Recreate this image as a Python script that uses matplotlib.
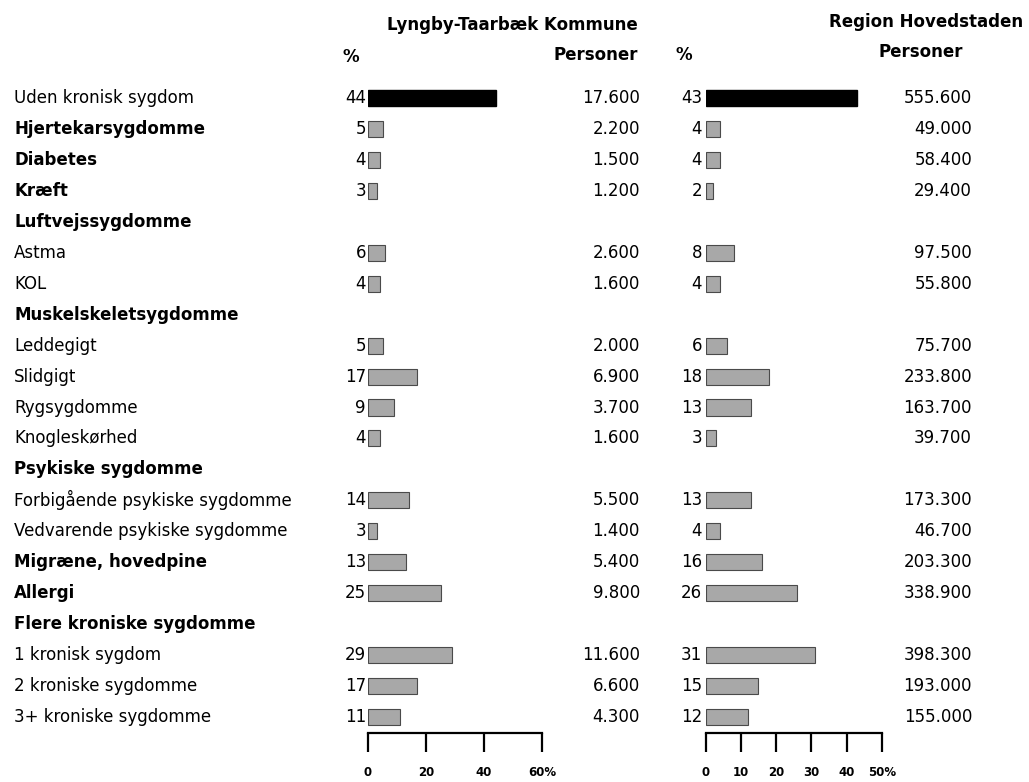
"""
kroniske sygdomme: Lyngby-Taarbaek Kommune vs Region Hovedstaden
"""

import matplotlib.pyplot as plt
from matplotlib.transforms import blended_transform_factory

W, H = 1029, 782

labels = ["Uden kronisk sygdom", "Hjertekarsygdomme", "Diabetes", "Kræft",
          "Luftvejssygdomme", "Astma", "KOL", "Muskelskeletsygdomme",
          "Leddegigt", "Slidgigt", "Rygsygdomme", "Knogleskørhed",
          "Psykiske sygdomme", "Forbigående psykiske sygdomme",
          "Vedvarende psykiske sygdomme", "Migræne, hovedpine", "Allergi",
          "Flere kroniske sygdomme", "1 kronisk sygdom",
          "2 kroniske sygdomme", "3+ kroniske sygdomme"]
bold = [False, True, True, True, True, False, False, True, False, False,
        False, False, True, False, False, True, True, True, False, False,
        False]

# None = group heading without values
kommune_pct = [44, 5, 4, 3, None, 6, 4, None, 5, 17, 9, 4, None, 14, 3,
               13, 25, None, 29, 17, 11]
kommune_pers = ["17.600", "2.200", "1.500", "1.200", None, "2.600", "1.600",
                None, "2.000", "6.900", "3.700", "1.600", None, "5.500",
                "1.400", "5.400", "9.800", None, "11.600", "6.600", "4.300"]
region_pct = [43, 4, 4, 2, None, 8, 4, None, 6, 18, 13, 3, None, 13, 4,
              16, 26, None, 31, 15, 12]
region_pers = ["555.600", "49.000", "58.400", "29.400", None, "97.500",
               "55.800", None, "75.700", "233.800", "163.700", "39.700",
               None, "173.300", "46.700", "203.300", "338.900", None,
               "398.300", "193.000", "155.000"]

kommune_ticks = [0, 20, 40, 60]
kommune_ticklabels = ["0", "20", "40", "60%"]
region_ticks = [0, 10, 20, 30, 40, 50]
region_ticklabels = ["0", "10", "20", "30", "40", "50%"]

ROW0, ROWSTEP = 98, 30.95
AX_TOP, AX_BOT = 80, 733


def fx(px):
    return px / W


def fy(py):
    return 1 - py / H


def panel(fig, x0, x1, xmax, ticks, ticklabels, pct):
    ax = fig.add_axes([fx(x0), fy(AX_BOT), fx(x1 - x0), fy(AX_TOP) - fy(AX_BOT)])
    ax.set_xlim(0, xmax)
    ax.set_ylim((AX_BOT - ROW0) / ROWSTEP, (AX_TOP - ROW0) / ROWSTEP)
    for i, v in enumerate(pct):
        if v is None:
            continue
        if i == 0:
            ax.barh(i, v, height=0.52, color="black", edgecolor="black")
        else:
            ax.barh(i, v, height=0.52, color="#a8a8a8", edgecolor="#4a4a4a",
                    linewidth=0.8)
    for side in ("top", "right", "left"):
        ax.spines[side].set_visible(False)
    ax.spines["bottom"].set_linewidth(1.6)
    ax.set_yticks([])
    ax.set_xticks(ticks)
    ax.set_xticklabels(ticklabels, fontsize=8.5, fontweight="bold")
    ax.tick_params(axis="x", direction="out", length=13.5, width=1.6, pad=10)
    ax.patch.set_alpha(0)
    return ax


def main():
    plt.switch_backend("agg")
    plt.rcParams["font.family"] = ["DejaVu Sans"]
    fig = plt.figure(figsize=(W / 100, H / 100), dpi=100)

    ax1 = panel(fig, 368, 542, 60, kommune_ticks, kommune_ticklabels,
                kommune_pct)
    panel(fig, 705.5, 882, 50, region_ticks, region_ticklabels, region_pct)

    trans = blended_transform_factory(fig.transFigure, ax1.transData)
    for i, lab in enumerate(labels):
        ax1.text(fx(14), i, lab, transform=trans, ha="left", va="center",
                 fontsize=12, fontweight="bold" if bold[i] else "normal")
        if kommune_pct[i] is not None:
            ax1.text(fx(366), i, str(kommune_pct[i]), transform=trans,
                     ha="right", va="center", fontsize=12)
            ax1.text(fx(640), i, kommune_pers[i], transform=trans,
                     ha="right", va="center", fontsize=12)
            ax1.text(fx(702), i, str(region_pct[i]), transform=trans,
                     ha="right", va="center", fontsize=12)
            ax1.text(fx(972), i, region_pers[i], transform=trans,
                     ha="right", va="center", fontsize=12)

    # column headers
    hdr = dict(fontsize=12, fontweight="bold", va="center")
    fig.text(fx(512), fy(25), "Lyngby-Taarbæk Kommune", ha="center", **hdr)
    fig.text(fx(1023), fy(22), "Region Hovedstaden", ha="right", **hdr)
    fig.text(fx(351), fy(57), "%", ha="center", **hdr)
    fig.text(fx(638), fy(55), "Personer", ha="right", **hdr)
    fig.text(fx(684), fy(55), "%", ha="center", **hdr)
    fig.text(fx(963), fy(52), "Personer", ha="right", **hdr)

    fig.savefig("out.png", dpi=100)


if __name__ == "__main__":
    main()
